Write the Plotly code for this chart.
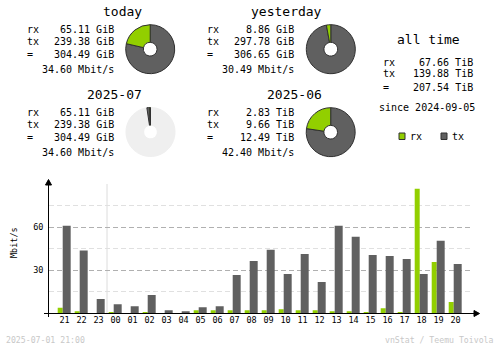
import plotly.graph_objects as go

# canvas size in pixels
W, H = 500, 348

RX_COLOR = "#92CF00"
TX_COLOR = "#606060"
EDGE_COLOR = "#303030"
REST_COLOR = "#EFEFEF"
FONT = "DejaVu Sans Mono"

# ---- hourly traffic (Mbit/s) ----
hours = ["21", "22", "23", "00", "01", "02", "03", "04", "05", "06", "07", "08",
         "09", "10", "11", "12", "13", "14", "15", "16", "17", "18", "19", "20"]
rx_mbit = [4.0, 1.6, 0.0, 0.9, 0.0, 0.9, 0.0, 0.0, 2.3, 2.3, 2.3, 2.3,
           2.3, 3.0, 2.3, 2.3, 1.6, 1.6, 0.9, 3.7, 0.9, 86.7, 35.8, 7.9]
tx_mbit = [60.9, 43.7, 10.0, 6.5, 5.1, 12.8, 2.3, 1.6, 4.4, 5.1, 26.7, 36.5,
           44.2, 27.4, 41.4, 21.9, 60.9, 53.3, 40.7, 40.0, 37.9, 27.4, 50.5, 34.4]
y_major = [30, 60]
y_minor = [15, 45, 75]

# ---- summary blocks ----
periods = ["today", "yesterday", "2025-07", "2025-06"]
rx_vals = [65.11, 8.86, 65.11, 2.83]
tx_vals = [239.38, 297.78, 239.38, 9.66]
total_vals = [304.49, 306.65, 304.49, 12.49]
units = ["GiB", "GiB", "GiB", "TiB"]
rate_vals = [34.60, 30.49, 34.60, 42.40]

# month in progress is shown against the previous month's total
month_ref_total = 12.49 * 1024  # GiB
month_rest = month_ref_total - total_vals[2]

alltime_rx, alltime_tx, alltime_total = 67.66, 139.88, 207.54
alltime_unit = "TiB"
since_date = "2024-09-05"
stamp = "2025-07-01 21:00"
credit = "vnStat / Teemu Toivola"


def fx(p):
    return p / W


def fy(p):
    return 1 - p / H


def to_gib(v, u):
    return v * 1024 if u == "TiB" else v


fig = go.Figure()

# hourly bars
n = len(hours)
idx = list(range(n))
fig.add_trace(go.Bar(x=idx, y=rx_mbit, width=[0.294] * n, offset=-0.40,
                     marker=dict(color=RX_COLOR, line=dict(width=0)),
                     hoverinfo="skip", showlegend=False))
fig.add_trace(go.Bar(x=idx, y=tx_mbit, width=[0.47] * n, offset=-0.106,
                     marker=dict(color=TX_COLOR, line=dict(width=0)),
                     hoverinfo="skip", showlegend=False))

# layout of the four summary blocks (pixel positions)
blocks = [
    dict(title=(122.5, 12), lx=25.7, vx=115, rows=[29, 41.5, 54.5, 69], pie=(150.2, 49.2)),
    dict(title=(286, 12), lx=205.7, vx=295, rows=[29, 41.5, 54.5, 69], pie=(330.8, 49.2)),
    dict(title=(114, 94), lx=25.7, vx=115, rows=[112.5, 124, 137.5, 152.5], pie=(150.5, 132)),
    dict(title=(294, 94), lx=205.7, vx=295, rows=[112.5, 124, 137.5, 152.5], pie=(330.7, 132.2)),
]

annotations = []


def text(x, y, s, size=10, anchor="left", color="#000000", angle=0):
    annotations.append(dict(x=fx(x), y=fy(y), xref="paper", yref="paper", text=s,
                            showarrow=False, xanchor=anchor, yanchor="middle",
                            textangle=angle, borderpad=0,
                            font=dict(family=FONT, size=size, color=color)))


PIE_R = 24.5
for i, b in enumerate(blocks):
    tx_, ty_ = b["title"]
    text(tx_, ty_, periods[i], size=13, anchor="center")
    u = units[i]
    r0, r1, r2, r3 = b["rows"]
    text(b["lx"], r0, "rx")
    text(b["lx"], r1, "tx")
    text(b["lx"], r2, "=")
    text(b["vx"], r0, f"{rx_vals[i]:.2f} {u}", anchor="right")
    text(b["vx"], r1, f"{tx_vals[i]:.2f} {u}", anchor="right")
    text(b["vx"], r2, f"{total_vals[i]:.2f} {u}", anchor="right")
    text(b["vx"], r3, f"{rate_vals[i]:.2f} Mbit/s", anchor="right")

    # slices run clockwise from 12 o'clock, so rx is listed last to end at the top
    cx, cy = b["pie"]
    dom = dict(x=[fx(cx - PIE_R), fx(cx + PIE_R)], y=[fy(cy + PIE_R), fy(cy - PIE_R)])
    if i == 2:
        vals = [month_rest, to_gib(tx_vals[i], u), to_gib(rx_vals[i], u)]
        cols = [REST_COLOR, TX_COLOR, RX_COLOR]
        lines = [REST_COLOR, EDGE_COLOR, EDGE_COLOR]
    else:
        vals = [to_gib(tx_vals[i], u), to_gib(rx_vals[i], u)]
        cols = [TX_COLOR, RX_COLOR]
        lines = [EDGE_COLOR, EDGE_COLOR]
    fig.add_trace(go.Pie(values=vals, domain=dom, hole=0.28, sort=False,
                         direction="clockwise", rotation=0,
                         textinfo="none", hoverinfo="skip", showlegend=False,
                         marker=dict(colors=cols, line=dict(color=lines, width=1))))

# all time block
text(428.3, 40, "all time", size=13, anchor="center")
text(381.7, 62.5, "rx")
text(381.7, 73, "tx")
text(381.7, 87.5, "=")
text(474, 62.5, f"{alltime_rx:.2f} {alltime_unit}", anchor="right")
text(474, 73, f"{alltime_tx:.2f} {alltime_unit}", anchor="right")
text(474, 87.5, f"{alltime_total:.2f} {alltime_unit}", anchor="right")
text(426.7, 107.5, f"since {since_date}", anchor="center")

# legend
text(409, 136, "rx")
text(451, 136, "tx")

# y axis title and footer
text(14, 243, "Mbit/s", size=8.5, anchor="center", angle=-90)
text(5, 340, stamp, size=8.2, color="#C8C8C8")
text(495, 340, credit, size=8.2, anchor="right", color="#C8C8C8")

shapes = [
    # legend swatches
    dict(type="rect", xref="paper", yref="paper", x0=fx(399), x1=fx(405), y0=fy(139.5), y1=fy(133),
         fillcolor=RX_COLOR, line=dict(color=EDGE_COLOR, width=1)),
    dict(type="rect", xref="paper", yref="paper", x0=fx(441), x1=fx(447), y0=fy(139.5), y1=fy(133),
         fillcolor=TX_COLOR, line=dict(color=EDGE_COLOR, width=1)),
    # day boundary marker
    dict(type="line", xref="x", yref="paper", x0=hours.index("00") - 0.5, x1=hours.index("00") - 0.5,
         y0=fy(313.5), y1=fy(184), line=dict(color="#DCDCDC", width=1), layer="below"),
    # axes
    dict(type="line", xref="paper", yref="paper", x0=fx(44), x1=fx(476), y0=fy(313.5), y1=fy(313.5),
         line=dict(color="#000000", width=1)),
    dict(type="line", xref="paper", yref="paper", x0=fx(48.5), x1=fx(48.5), y0=fy(317), y1=fy(184),
         line=dict(color="#000000", width=1)),
    dict(type="path", xref="paper", yref="paper",
         path=f"M {fx(474)} {fy(310.5)} L {fx(479.5)} {fy(313.5)} L {fx(474)} {fy(316.5)} Z",
         fillcolor="#000000", line=dict(color="#000000", width=1)),
    dict(type="path", xref="paper", yref="paper",
         path=f"M {fx(45.5)} {fy(185)} L {fx(48.5)} {fy(179.5)} L {fx(51.5)} {fy(185)} Z",
         fillcolor="#000000", line=dict(color="#000000", width=1)),
]

x_left, x_right = 48.5, 473
slot = 17.0
center0 = 64.5
y_zero, px_per_unit = 313.5, 43.2 / 30
y_top = 182

fig.update_layout(
    width=W, height=H,
    margin=dict(l=0, r=0, t=0, b=0),
    paper_bgcolor="#FFFFFF", plot_bgcolor="#FFFFFF",
    barmode="overlay",
    annotations=annotations,
    shapes=shapes,
    xaxis=dict(domain=[fx(x_left), fx(x_right)],
               range=[(x_left - center0) / slot, (x_right - center0) / slot],
               tickvals=idx, ticktext=hours, ticks="", showgrid=False, zeroline=False,
               showline=False, fixedrange=True,
               tickfont=dict(family=FONT, size=8.5, color="#000000")),
    yaxis=dict(domain=[fy(y_zero), fy(y_top)],
               range=[0, (y_zero - y_top) / px_per_unit],
               tickvals=y_major, ticks="", showline=False, zeroline=False,
               ticklabelstandoff=4,
               showgrid=True, gridcolor="#B0B0B0", griddash="5px,3px", gridwidth=1,
               minor=dict(tickvals=y_minor, showgrid=True, gridcolor="#E0E0E0",
                          griddash="5px,3px", gridwidth=1),
               tickfont=dict(family=FONT, size=8.5, color="#000000"), fixedrange=True),
)

fig.write_html("out.html", config={"displayModeBar": False})
